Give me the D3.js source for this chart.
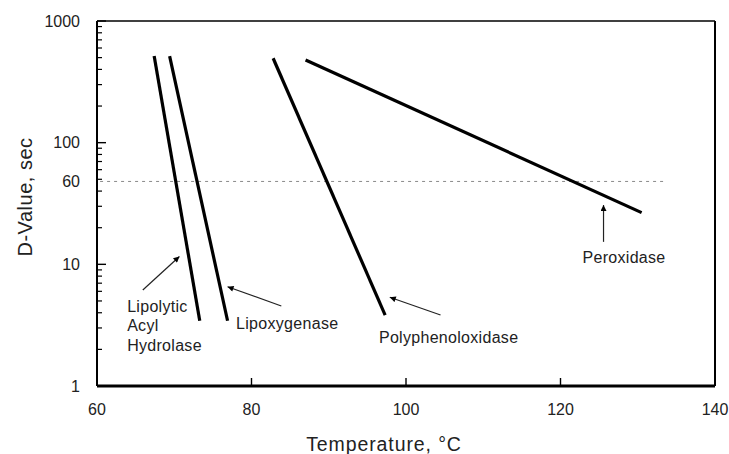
<!DOCTYPE html>
<html>
<head>
<meta charset="utf-8">
<script src="https://cdn.jsdelivr.net/npm/d3@7"></script>
<style>
  html, body { margin: 0; padding: 0; background: #fff; }
  svg { display: block; font-family: Arial, "Liberation Sans", sans-serif; }
</style>
</head>
<body>
<svg id="chart" width="729" height="454"></svg>
<script>
// ---- data ----
const enzymes   = ["Lipolytic Acyl Hydrolase", "Lipoxygenase", "Polyphenoloxidase", "Peroxidase"];
const tempStart = [67.4, 69.4, 82.8, 87.0];   // °C at upper end of each line
const tempEnd   = [73.3, 76.9, 97.3, 130.5];  // °C at lower end
const dStart    = [515, 515, 494, 478];       // D-value (s) at upper end
const dEnd      = [3.44, 3.44, 3.83, 26.6];   // D-value (s) at lower end

const xTicks = [60, 80, 100, 120, 140];
const yMajorTicks = [1, 10, 100, 1000];
const refLineValue = 48;     // position of the dotted reference line on the axis
const refLineLabel = "60";   // label printed beside it
const refLineRange = [60.4, 133.6];

// annotation labels: [text lines], anchor (temp, D)
const labelLines = [["Lipolytic", "Acyl", "Hydrolase"], ["Lipoxygenase"], ["Polyphenoloxidase"], ["Peroxidase"]];
const labelTemp  = [63.9, 78.0, 96.5, 122.85];
const labelD     = [4.06, 2.94, 2.24, 10.2];
// arrows: tail -> tip
const arrowTailT = [65.93, 83.86, 104.47, 125.57];
const arrowTailD = [6.15, 4.54, 3.83, 15.3];
const arrowTipT  = [70.67, 76.9, 97.9, 125.57];
const arrowTipD  = [11.6, 6.55, 5.36, 30.7];

// ---- layout ----
const W = 729, H = 454;
const margin = { top: 21, right: 14, bottom: 68, left: 97 };
const iw = W - margin.left - margin.right;
const ih = H - margin.top - margin.bottom;

const svg = d3.select("#chart");
const g = svg.append("g").attr("transform", `translate(${margin.left},${margin.top})`);

const x = d3.scaleLinear().domain([60, 140]).range([0, iw]);
const y = d3.scaleLog().domain([1, 1000]).range([ih, 0]);

// arrow marker
svg.append("defs").append("marker")
  .attr("id", "ah").attr("viewBox", "0 0 10 10")
  .attr("refX", 10).attr("refY", 5)
  .attr("markerWidth", 9).attr("markerHeight", 6)
  .attr("markerUnits", "userSpaceOnUse")
  .attr("orient", "auto")
  .append("path").attr("d", "M0,0 L10,5 L0,10 Z").attr("fill", "#000");

// dotted reference line
g.append("line")
  .attr("x1", x(refLineRange[0])).attr("x2", x(refLineRange[1]))
  .attr("y1", y(refLineValue)).attr("y2", y(refLineValue))
  .attr("stroke", "#8a8a8a").attr("stroke-width", 1)
  .attr("stroke-dasharray", "3,4");

// frame (top and right)
g.append("line").attr("x1", 0).attr("x2", iw).attr("y1", 0).attr("y2", 0)
  .attr("stroke", "#000").attr("stroke-width", 1.5);
g.append("line").attr("x1", iw).attr("x2", iw).attr("y1", 0).attr("y2", ih)
  .attr("stroke", "#000").attr("stroke-width", 2);

// y axis: minor ticks
const minorVals = [];
for (let dec = 1; dec < 1000; dec *= 10) for (let k = 2; k <= 9; k++) minorVals.push(dec * k);
g.selectAll(".ymin").data(minorVals).enter().append("line")
  .attr("x1", 0).attr("x2", 5)
  .attr("y1", d => y(d)).attr("y2", d => y(d))
  .attr("stroke", "#000").attr("stroke-width", 1.2);
g.selectAll(".ymaj").data(yMajorTicks).enter().append("line")
  .attr("x1", 0).attr("x2", 9)
  .attr("y1", d => y(d)).attr("y2", d => y(d))
  .attr("stroke", "#000").attr("stroke-width", 1.4);

// y tick labels
const yLab = yMajorTicks.map(v => ({ v, t: String(v) })).concat([{ v: refLineValue, t: refLineLabel }]);
g.selectAll(".ylab").data(yLab).enter().append("text")
  .attr("x", -17).attr("y", d => y(d.v))
  .attr("dy", "0.36em").attr("text-anchor", "end")
  .attr("font-size", 16).attr("fill", "#222")
  .text(d => d.t);

// left axis line
g.append("line").attr("x1", 0).attr("x2", 0).attr("y1", 0).attr("y2", ih)
  .attr("stroke", "#000").attr("stroke-width", 2);

// x axis ticks & labels
g.selectAll(".xt").data(xTicks.slice(1)).enter().append("line")
  .attr("x1", d => x(d)).attr("x2", d => x(d))
  .attr("y1", ih).attr("y2", ih - 8)
  .attr("stroke", "#000").attr("stroke-width", 1.4);
g.selectAll(".xlab").data(xTicks).enter().append("text")
  .attr("x", d => x(d)).attr("y", ih + 29)
  .attr("text-anchor", "middle").attr("font-size", 16).attr("fill", "#222")
  .text(d => d);
g.append("line").attr("x1", 0).attr("x2", iw).attr("y1", ih).attr("y2", ih)
  .attr("stroke", "#000").attr("stroke-width", 3);

// data lines
const lineData = enzymes.map((name, i) => [[tempStart[i], dStart[i]], [tempEnd[i], dEnd[i]]]);
const lineGen = d3.line().x(d => x(d[0])).y(d => y(d[1]));
g.selectAll(".enz").data(lineData).enter().append("path")
  .attr("d", lineGen).attr("fill", "none")
  .attr("stroke", "#000").attr("stroke-width", 3.2);

// arrows
g.selectAll(".arr").data(enzymes.map((n, i) => i)).enter().append("line")
  .attr("x1", i => x(arrowTailT[i])).attr("y1", i => y(arrowTailD[i]))
  .attr("x2", i => x(arrowTipT[i])).attr("y2", i => y(arrowTipD[i]))
  .attr("stroke", "#222").attr("stroke-width", 1.2)
  .attr("marker-end", "url(#ah)");

// annotation labels
enzymes.forEach((n, i) => {
  const t = g.append("text")
    .attr("x", x(labelTemp[i])).attr("y", y(labelD[i]))
    .attr("font-size", 16).attr("fill", "#222").attr("letter-spacing", "0.3px");
  labelLines[i].forEach((ln, j) => {
    t.append("tspan").attr("x", x(labelTemp[i])).attr("dy", j === 0 ? 0 : 19.5).text(ln);
  });
});

// axis titles
svg.append("text")
  .attr("x", 384).attr("y", 451)
  .attr("text-anchor", "middle").attr("font-size", 19.5).attr("fill", "#222")
  .attr("letter-spacing", "0.9px")
  .text("Temperature, °C");
svg.append("text")
  .attr("transform", "translate(31.5,197) rotate(-90)")
  .attr("text-anchor", "middle").attr("font-size", 20).attr("fill", "#222")
  .attr("letter-spacing", "0.5px")
  .text("D-Value, sec");
</script>
</body>
</html>
